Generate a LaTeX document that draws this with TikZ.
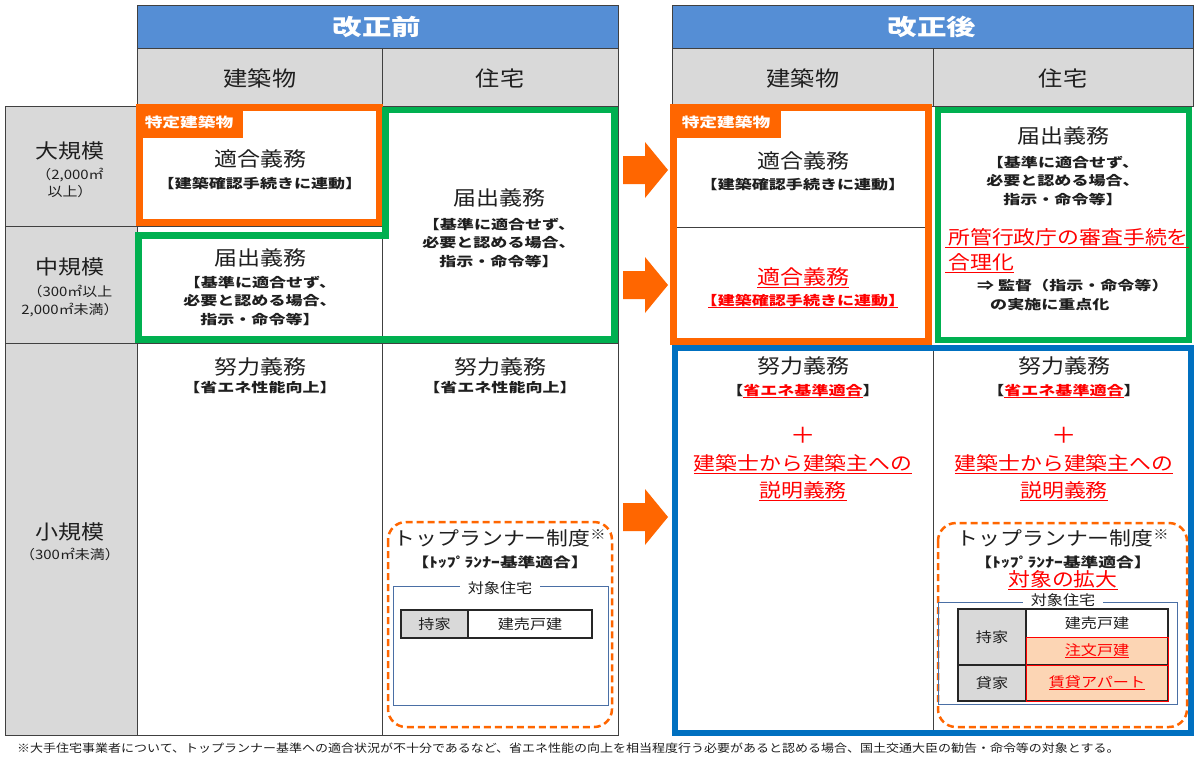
\documentclass[tikz,border=0pt]{standalone}
\usepackage{fontspec}
\usepackage{graphicx}
\setmainfont[FakeStretch=1.15]{Noto Sans CJK JP}
\usetikzlibrary{positioning}
\definecolor{hdrblue}{HTML}{558ED5}
\definecolor{cellgray}{HTML}{D9D9D9}
\definecolor{orng}{HTML}{FF6600}
\definecolor{grn}{HTML}{00B050}
\definecolor{bbox}{HTML}{0070C0}
\definecolor{redt}{HTML}{FF0000}
\definecolor{salmon}{HTML}{FCD5B4}
\definecolor{txtc}{HTML}{1F1F1F}
\definecolor{thinblue}{HTML}{4A6FA5}
\newsavebox\myulbox
\newcommand\myul[1]{\sbox\myulbox{#1}\leavevmode\rlap{\vrule width \wd\myulbox height -0.13em depth 0.2em}\usebox\myulbox}
\newcommand\myulb[1]{\sbox\myulbox{#1}\leavevmode\rlap{\kern0.5em\vrule width \dimexpr\wd\myulbox-1.0em\relax height -0.13em depth 0.2em}\usebox\myulbox}
\newcommand\wx[1]{\scalebox{1.14}[1]{#1}}
\tikzset{
  grid/.style={line width=1, draw=black!75},
  t/.style={inner sep=0, text=txtc},
  hdr/.style={inner sep=0, text=white, font=\fontsize{22.5}{26}\selectfont\bfseries},
  colh/.style={t, font=\fontsize{21}{24}\selectfont},
  rowl/.style={t, font=\fontsize{20}{24}\selectfont},
  rows/.style={t, font=\fontsize{13}{17.5}\selectfont, align=center},
  big/.style={t, font=\fontsize{20}{24}\selectfont},
  sm/.style={t, font=\fontsize{13}{18.5}\selectfont\bfseries, align=center},
  redbig/.style={inner sep=0, text=redt, font=\fontsize{19}{23}\selectfont},
  tag/.style={inner sep=0, text=white, font=\fontsize{13.5}{15}\selectfont\bfseries},
  tr/.style={t, font=\fontsize{19}{23}\selectfont},
  trs/.style={t, font=\fontsize{13.5}{15}\selectfont\bfseries},
  cellt/.style={t, font=\fontsize{14}{16}\selectfont},
  barrow/.pic={\fill[orng] (-22,-14) -- (0,-14) -- (0,-28) -- (23,0) -- (0,28) -- (0,14) -- (-22,14) -- cycle;}
}
\begin{document}
\begin{tikzpicture}[x=1pt,y=-1pt]
\useasboundingbox (0,0) rectangle (1200,761);
\fill[white] (0,0) rectangle (1200,761);

% ---------- left table ----------
\fill[hdrblue] (137,5) rectangle (618,48);
\fill[cellgray] (137,48) rectangle (618,106);
\fill[cellgray] (5,106) rectangle (137,735);
\draw[grid] (137,5) rectangle (618,735);
\draw[grid] (137,48) -- (618,48);
\draw[grid] (5,106) -- (618,106);
\draw[grid] (382,48) -- (382,735);
\draw[grid] (5,106) -- (5,735) -- (137,735);
\draw[grid] (5,226) -- (382,226);
\draw[grid] (5,343) -- (618,343);

% ---------- right table ----------
\fill[hdrblue] (672,5) rectangle (1193,48);
\fill[cellgray] (672,48) rectangle (1193,106);
\draw[grid] (672,5) rectangle (1193,106);
\draw[grid] (672,48) -- (1193,48);
\draw[grid] (933,48) -- (933,106);
\draw[grid] (933,348) -- (933,733);
\draw[grid] (676,227) -- (926,227);

% ---------- headers ----------
\node[hdr] (h1) at (377,27) {\wx{改正前}};
\node[hdr] (h2) at (932,27) {\wx{改正後}};
\node[colh] (c1) at (260,78) {建築物};
\node[colh] (c2) at (500,78) {住宅};
\node[colh] (c3) at (803,78) {建築物};
\node[colh] (c4) at (1063,78) {住宅};

% ---------- row labels ----------
\node[rowl] (r1) at (70,151) {大規模};
\node[rows] (r1s) at (70,183) {（2,000㎡\\以上）};
\node[rowl] (r2) at (70,267) {中規模};
\node[rows] (r2s) at (70,301) {（300㎡以上\\2,000㎡未満）};
\node[rowl] (r3) at (70,532) {小規模};
\node[rows] (r3s) at (70,554) {（300㎡未満）};

% ---------- boxes ----------
\draw[orng, line width=7] (139.5,107.5) rectangle (379.5,222.5);
\fill[orng] (136,104) rectangle (243,138);
\node[tag] (tg1) at (189,122) {\wx{特定建築物}};
\draw[grn, line width=6.5] (138.5,235.5) -- (385.5,235.5) -- (385.5,110) -- (614.5,110) -- (614.5,339.5) -- (138.5,339.5) -- cycle;

\draw[orng, line width=7] (673.5,107.5) rectangle (928.5,341.5);
\fill[orng] (670,104) rectangle (781,138);
\node[tag] (tg2) at (726,122) {\wx{特定建築物}};
\draw[grn, line width=6] (938,110) rectangle (1189,340);
\draw[bbox, line width=6] (675,348) rectangle (1191,733);

% ---------- arrows ----------
\pic at (645,170) {barrow};
\pic at (645,285) {barrow};
\pic at (645,517) {barrow};

% ---------- left cells ----------
\node[big] (a1) at (260,159) {適合義務};
\node[sm] (a1s) at (260,184) {\wx{【建築確認手続きに連動】}};
\node[big] (a2) at (260,258) {届出義務};
\node[sm] (a2s) at (260,301) {\wx{【基準に適合せず、}\\\wx{必要と認める場合、}\\\wx{指示・命令等】}};
\node[big] (b1) at (499,198) {届出義務};
\node[sm] (b1s) at (499,243) {\wx{【基準に適合せず、}\\\wx{必要と認める場合、}\\\wx{指示・命令等】}};
\node[big] (a3) at (260,367) {努力義務};
\node[sm] (a3s) at (260,388) {\wx{【省エネ性能向上】}};
\node[big] (b3) at (500,367) {努力義務};
\node[sm] (b3s) at (500,388) {\wx{【省エネ性能向上】}};

% top runner (left)
\draw[orng, dashed, dash pattern=on 7pt off 4pt, line width=2.5, rounded corners=18] (388,522) rectangle (612,727);
\node[tr] (tp1) at (500,538) {トップランナー制度\textsuperscript{※}};
\node[trs] (tp1s) at (500,562) {\wx{【ﾄｯﾌﾟﾗﾝﾅｰ基準適合】}};
\draw[thinblue, line width=1] (393,586) rectangle (608,705);
\node[cellt, fill=white, inner xsep=8, inner ysep=1] (tj1) at (500,588) {対象住宅};
\fill[cellgray] (401,610) rectangle (468,638);
\draw[line width=1.3, draw=black!85] (401,610) rectangle (592,638);
\draw[line width=1.3, draw=black!85] (468,610) -- (468,638);
\node[cellt] (m1) at (434.5,624) {持家};
\node[cellt] (m2) at (530,624) {建売戸建};

% ---------- right cells ----------
\node[big] (d1) at (803,161) {適合義務};
\node[sm] (d1s) at (803,185) {\wx{【建築確認手続きに連動】}};
\node[redbig, font=\fontsize{20}{24}\selectfont] (d2) at (803,278) {\myul{適合義務}};
\node[sm, text=redt] (d2s) at (803,301) {\wx{\myulb{【建築確認手続きに連動】}}};

\node[big] (e1) at (1063,136) {届出義務};
\node[sm] (e1s) at (1063,181) {\wx{【基準に適合せず、}\\\wx{必要と認める場合、}\\\wx{指示・命令等】}};
\node[redbig, anchor=west] (e2) at (945,238) {\myul{\,所管行政庁の審査手続を}};
\node[redbig, anchor=west] (e3) at (945,263) {\myul{\,合理化}};
\node[t, anchor=west, font=\fontsize{13}{16}\selectfont\bfseries] (e4) at (977,286) {\wx{⇒ 監督（指示・命令等）}};
\node[t, anchor=west, font=\fontsize{13}{16}\selectfont\bfseries] (e5) at (990,305) {\wx{の実施に重点化}};

\node[big] (d3) at (803,366) {努力義務};
\node[sm] (d3s) at (803,391) {\wx{【\textcolor{redt}{\myul{省エネ基準適合}}】}};
\node[redbig, font=\fontsize{22}{24}\selectfont] (d3p) at (803,435) {＋};
\node[redbig] (d3a) at (803,464) {\myul{建築士から建築主への}};
\node[redbig] (d3b) at (803,491) {\myul{説明義務}};

\node[big] (e6) at (1064,366) {努力義務};
\node[sm] (e6s) at (1064,391) {\wx{【\textcolor{redt}{\myul{省エネ基準適合}}】}};
\node[redbig, font=\fontsize{22}{24}\selectfont] (e6p) at (1064,435) {＋};
\node[redbig] (e6a) at (1064,464) {\myul{建築士から建築主への}};
\node[redbig] (e6b) at (1064,491) {\myul{説明義務}};

% top runner (right)
\draw[orng, dashed, dash pattern=on 7pt off 4pt, line width=2.5, rounded corners=18] (938,523) rectangle (1187,727);
\node[tr] (tp2) at (1063,538) {トップランナー制度\textsuperscript{※}};
\node[trs] (tp2s) at (1063,562) {\wx{【ﾄｯﾌﾟﾗﾝﾅｰ基準適合】}};
\node[redbig] (tp2r) at (1063,580) {\myul{対象の拡大}};
\draw[thinblue, line width=1] (938,602) rectangle (1177,704);
\node[cellt, fill=white, inner xsep=8, inner ysep=1] (tj2) at (1063,600) {対象住宅};
\fill[cellgray] (958,609) rectangle (1026,701);
\fill[salmon] (1026,637) rectangle (1168,701);
\draw[line width=1.3, draw=black!85] (958,609) rectangle (1168,701);
\draw[line width=1.3, draw=black!85] (1026,609) -- (1026,701);
\draw[line width=1.3, draw=black!85] (958,665) -- (1168,665);
\draw[line width=1, draw=redt] (1026,637) rectangle (1168,701);
\draw[line width=1, draw=redt] (1026,665) -- (1168,665);
\node[cellt] (n1) at (992,637) {持家};
\node[cellt] (n2) at (992,683) {貸家};
\node[cellt] (n3) at (1097,623) {建売戸建};
\node[cellt, text=redt] (n4) at (1097,651) {\myul{注文戸建}};
\node[cellt, text=redt] (n5) at (1097,683) {\myul{賃貸アパート}};

% ---------- footnote ----------
\node[t, anchor=west, font=\fontsize{11.3}{13}\selectfont] (fn) at (17,748) {※大手住宅事業者について、トップランナー基準への適合状況が不十分であるなど、省エネ性能の向上を相当程度行う必要があると認める場合、国土交通大臣の勧告・命令等の対象とする。};
\end{tikzpicture}
\end{document}
